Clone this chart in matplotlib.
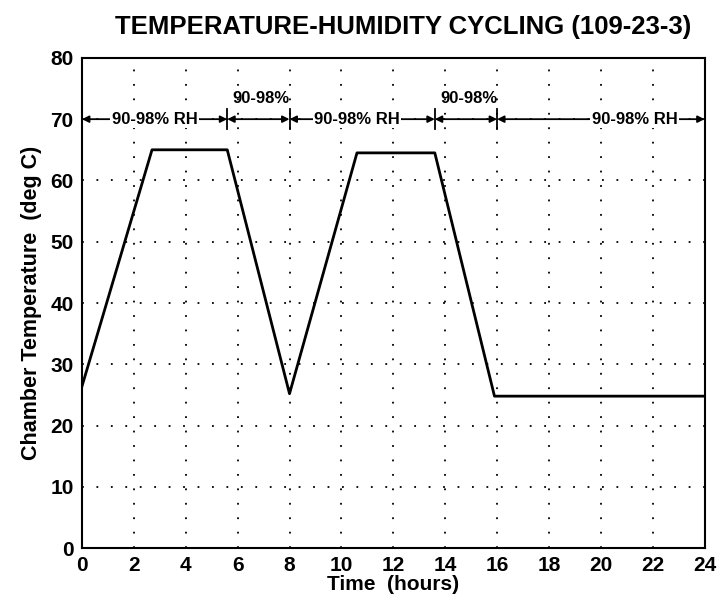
import matplotlib
matplotlib.use("Agg")
import matplotlib.pyplot as plt

plt.rcParams['font.family'] = ['Liberation Sans', 'DejaVu Sans']
plt.rcParams['font.weight'] = 'bold'

time_h = [0, 2.7, 5.6, 8.0, 10.6, 13.6, 15.9, 24]
temp_c = [26.4, 65.0, 65.0, 25.2, 64.5, 64.5, 24.8, 24.8]

seg_bounds = [0, 5.6, 8.0, 13.6, 16.0, 24]
seg_labels = ["90-98% RH", "90-98%", "90-98% RH", "90-98%", "90-98% RH"]
seg_label_above = [False, True, False, True, False]
seg_label_x = [2.8, 6.9, 10.6, 14.9, 21.3]
rh_level = 70

x_ticks = list(range(0, 25, 2))
y_ticks = list(range(0, 81, 10))

fig = plt.figure(figsize=(7.19, 6.03), dpi=100)
ax = fig.add_axes([0.114, 0.091, 0.866, 0.813])

ax.plot(time_h, temp_c, color='black', lw=2.0, zorder=3)

ax.set_xlim(0, 24)
ax.set_ylim(0, 80)
ax.set_xticks(x_ticks)
ax.set_yticks(y_ticks)
ax.tick_params(length=0, labelsize=15, pad=6)
for lab in ax.get_xticklabels() + ax.get_yticklabels():
    lab.set_fontweight('bold')
ax.grid(True, color='black', linestyle=(0, (1, 7)), lw=1.3)
for s in ax.spines.values():
    s.set_linewidth(1.5)

# RH annotations
for i in range(len(seg_labels)):
    a, b = seg_bounds[i], seg_bounds[i + 1]
    ax.annotate('', xy=(a, rh_level), xytext=(b, rh_level),
                arrowprops=dict(arrowstyle='<|-|>', color='black', lw=1.3,
                                shrinkA=0, shrinkB=0, mutation_scale=10),
                zorder=4)
    if seg_label_above[i]:
        ax.text(seg_label_x[i], rh_level + 3.4, seg_labels[i], ha='center', va='center',
                fontsize=12, fontweight='bold', zorder=5)
    else:
        ax.text(seg_label_x[i], rh_level, seg_labels[i], ha='center', va='center',
                fontsize=12, fontweight='bold', zorder=5,
                bbox=dict(facecolor='white', edgecolor='none', pad=1))
for xb in seg_bounds[1:-1]:
    ax.plot([xb, xb], [rh_level - 1.6, rh_level + 1.6], color='black', lw=1.3, zorder=4)

ax.set_xlabel('Time  (hours)', fontsize=15, fontweight='bold', labelpad=0)
ax.set_ylabel('Chamber Temperature  (deg C)', fontsize=15.5, fontweight='bold', labelpad=6)
fig.suptitle('TEMPERATURE-HUMIDITY CYCLING (109-23-3)', x=0.56, y=0.975,
             fontsize=18.5, fontweight='bold')

fig.savefig('out.png', dpi=100)
